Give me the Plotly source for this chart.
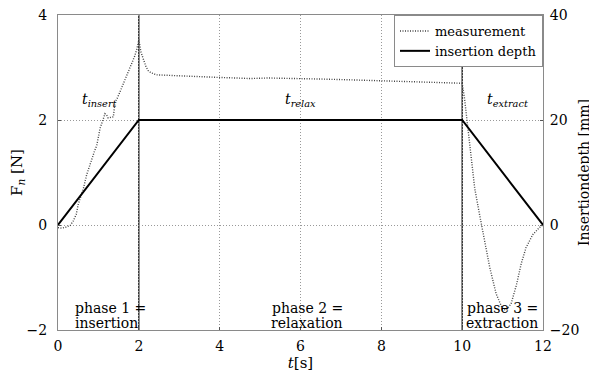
import plotly.graph_objects as go

# ---- data ----
t_meas = [0, 0.1, 0.2, 0.3, 0.38, 0.45, 0.5, 0.57, 0.63, 0.71, 0.77, 0.83, 0.9, 0.96,
          1.04, 1.12, 1.16, 1.2, 1.24, 1.3, 1.37, 1.41, 1.47, 1.53, 1.6, 1.66, 1.72,
          1.78, 1.84, 1.9, 1.95, 2.0, 2.05, 2.11, 2.17, 2.23, 2.3, 2.44, 2.7, 3.02,
          3.4, 3.8, 4.0, 4.4, 4.75, 5.2, 5.6, 6.0, 6.5, 7.0, 7.5, 8.0, 8.5, 9.0, 9.5,
          9.8, 10.0, 10.06, 10.14, 10.22, 10.31, 10.43, 10.55, 10.68, 10.84, 11.0,
          11.09, 11.21, 11.34, 11.46, 11.58, 11.75, 11.91, 12.0]
f_meas = [-0.05, -0.06, -0.04, -0.01, 0.08, 0.2, 0.39, 0.55, 0.7, 0.96, 1.1, 1.27, 1.4,
          1.52, 1.84, 2.02, 2.12, 2.1, 2.04, 2.05, 2.06, 2.34, 2.42, 2.53, 2.66, 2.78,
          2.86, 2.97, 3.1, 3.22, 3.35, 3.53, 3.3, 3.16, 3.03, 2.94, 2.9, 2.86, 2.85,
          2.84, 2.83, 2.82, 2.81, 2.8, 2.79, 2.8, 2.79, 2.78, 2.78, 2.77, 2.76, 2.75,
          2.74, 2.73, 2.72, 2.7, 2.7, 2.4, 1.84, 1.21, 0.7, 0.2, -0.3, -0.8, -1.31,
          -1.6, -1.62, -1.5, -1.15, -0.74, -0.43, -0.18, -0.05, 0.0]

t_depth = [0, 2, 10, 12]
depth_mm = [0, 20, 20, 0]

phase_bounds = [2, 10]
x_ticks = [0, 2, 4, 6, 8, 10, 12]
y_ticks = [-2, 0, 2, 4]
y2_ticks = [-20, 0, 20, 40]

FONT = "DejaVu Serif"

fig = go.Figure()
fig.add_trace(go.Scatter(x=t_meas, y=f_meas, mode="lines", name="measurement",
                         line=dict(color="#444444", width=1.4, dash="1px,1.5px")))
fig.add_trace(go.Scatter(x=t_depth, y=depth_mm, mode="lines", name="insertion depth",
                         yaxis="y2", line=dict(color="black", width=2)))

for xb in phase_bounds:
    fig.add_shape(type="line", x0=xb, x1=xb, y0=0, y1=1, xref="x", yref="paper",
                  line=dict(color="black", width=1.2), layer="between")

ann = [
    dict(x=0.54, y=2.38, text="<i>t</i><sub><i>insert</i></sub>", xanchor="left"),
    dict(x=6.0, y=2.38, text="<i>t</i><sub><i>relax</i></sub>", xanchor="center"),
    dict(x=11.12, y=2.38, text="<i>t</i><sub><i>extract</i></sub>", xanchor="center"),
]
for a in ann:
    fig.add_annotation(x=a["x"], y=a["y"], text=a["text"], xanchor=a["xanchor"],
                       yanchor="middle", showarrow=False,
                       font=dict(family=FONT, size=14, color="black"))

phase_lbl = [
    (0.37, "left", "phase 1 =", "insertion"),
    (6.17, "center", "phase 2 =", "relaxation"),
    (11.93, "right", "phase 3 =", "extraction"),
]
for x, anc, l1, l2 in phase_lbl:
    fig.add_annotation(x=x, y=-1.58, text=l1, xanchor=anc, yanchor="middle",
                       showarrow=False, font=dict(family=FONT, size=14, color="black"))
    fig.add_annotation(x=x, y=-1.87, text=l2, xanchor=anc, yanchor="middle",
                       showarrow=False, font=dict(family=FONT, size=14, color="black"))

axis_common = dict(showline=True, linecolor="#8a8a8a", linewidth=1,
                   ticks="inside", ticklen=3, tickcolor="#555", automargin=False,
                   ticklabeloverflow="allow",
                   tickfont=dict(family=FONT, size=14, color="black"), zeroline=False)

# page body has an 8px margin, so plot-area margins are offset accordingly
fig.update_layout(
    width=597, height=376,
    margin=dict(l=50, r=62, t=7, b=54, autoexpand=False),
    plot_bgcolor="white", paper_bgcolor="white",
    font=dict(family=FONT, size=14, color="black"),
    xaxis=dict(range=[0, 12], tickvals=x_ticks, showgrid=True, gridcolor="#999",
               griddash="1px,2px", gridwidth=1, mirror=True, ticklabelstandoff=3,
               title=dict(text="<i>t</i>[s]", standoff=2,
                          font=dict(family=FONT, size=15)), **axis_common),
    yaxis=dict(range=[-2, 4], tickvals=y_ticks, showgrid=True, gridcolor="#999",
               griddash="1px,2px", gridwidth=1, ticklabelstandoff=7, mirror=True,
               title=dict(text="F<sub><i>n</i></sub> [N]", standoff=0,
                          font=dict(family=FONT, size=15)), **axis_common),
    yaxis2=dict(range=[-20, 40], tickvals=y2_ticks, overlaying="y", side="right",
                showgrid=False, ticklabelstandoff=3,
                title=dict(text="Insertiondepth [mm]", standoff=0,
                           font=dict(family=FONT, size=14)), **axis_common),
    legend=dict(x=1, y=1, xanchor="right", yanchor="top", bgcolor="white",
                bordercolor="#8a8a8a", borderwidth=1, itemwidth=30,
                font=dict(family=FONT, size=13), tracegroupgap=0),
    showlegend=True,
)

fig.write_html("out.html")
